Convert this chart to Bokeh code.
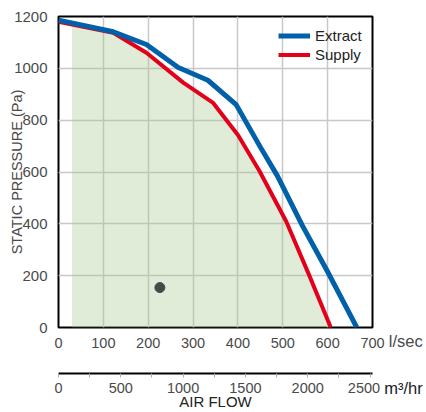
import numpy as np
from bokeh.plotting import figure
from bokeh.models import Range1d, LinearAxis, FixedTicker, Legend, LegendItem
from bokeh.embed import file_html
from bokeh.resources import INLINE

# ---- data ----
extract_flow = [0, 122, 196, 267, 333, 396, 450, 488, 544, 600, 665]
extract_pressure = [1186, 1141, 1092, 1003, 954, 860, 696, 585, 392, 215, 0]
supply_flow = [0, 122, 196, 278, 344, 400, 448, 508, 559, 607]
supply_pressure = [1180, 1137, 1060, 945, 868, 743, 604, 408, 201, 0]
fill_start_flow = 30
point_flow = [226]
point_pressure = [154]

flow_ticks = [0, 100, 200, 300, 400, 500, 600, 700]
pressure_ticks = [0, 200, 400, 600, 800, 1000, 1200]
m3h_ticks = [0, 500, 1000, 1500, 2000, 2500]
m3h_minor_ticks = [250, 750, 1250, 1750, 2250]
LS_TO_M3H = 3.6

FONT = "Liberation Sans"
TICK_COL = "#4a4a4a"
DARK = "#222222"
NB = "\u00a0"

p = figure(width=426, height=412,
           x_range=Range1d(0, 700), y_range=Range1d(0, 1200),
           output_backend="svg", toolbar_location=None,
           min_border_left=58, min_border_right=54, min_border_top=16, min_border_bottom=0)

p.outline_line_color = "black"
p.outline_line_width = 2
p.background_fill_color = "white"
p.border_fill_color = "white"

# grid
p.xgrid.ticker = FixedTicker(ticks=flow_ticks)
p.ygrid.ticker = FixedTicker(ticks=pressure_ticks)
for g in (p.xgrid[0], p.ygrid[0]):
    g.grid_line_color = "#c8c8c8"
    g.grid_line_width = 1.5

# fill under supply curve
sf = np.array(supply_flow, dtype=float)
sp = np.array(supply_pressure, dtype=float)
fx = np.concatenate([[fill_start_flow], sf[sf > fill_start_flow]])
fy = np.interp(fx, sf, sp)
p.varea(x=fx, y1=np.zeros_like(fy), y2=fy, fill_color="#a6c98e", fill_alpha=0.35)

# curves
r_sup = p.line(supply_flow, supply_pressure, line_color="#e2001a", line_width=4, line_join="round")
r_ext = p.line(extract_flow, extract_pressure, line_color="#0060aa", line_width=5, line_join="round")
p.scatter(point_flow, point_pressure, size=10, color="#464a46")

# legend
legend = Legend(items=[LegendItem(label="Extract", renderers=[r_ext]),
                       LegendItem(label="Supply", renderers=[r_sup])],
                location=(220, 263), orientation="vertical",
                glyph_width=32, glyph_height=19, label_height=19, spacing=0, padding=0,
                label_standoff=5, border_line_color=None, background_fill_alpha=0,
                label_text_font=FONT, label_text_font_size="15px", label_text_color=DARK)
p.add_layout(legend, "center")


def style_labels(ax, size="14.5px"):
    ax.major_label_text_font = FONT
    ax.major_label_text_font_size = size
    ax.major_label_text_color = TICK_COL
    ax.axis_label_text_font = FONT
    ax.axis_label_text_font_style = "normal"


# y axis
ya = p.yaxis[0]
ya.ticker = FixedTicker(ticks=pressure_ticks)
ya.axis_line_color = None
ya.major_tick_line_color = None
ya.minor_tick_line_color = None
ya.major_label_standoff = 5
style_labels(ya, "15px")
ya.axis_label = "STATIC PRESSURE (Pa)"
ya.axis_label_text_font_size = "14.5px"
ya.axis_label_text_color = TICK_COL
ya.axis_label_standoff = -14

# x axis l/sec (unit text carried by its axis label, pulled up into the tick row)
xa = p.xaxis[0]
xa.ticker = FixedTicker(ticks=flow_ticks)
xa.axis_line_color = None
xa.major_tick_line_color = None
xa.minor_tick_line_color = None
xa.major_label_standoff = 4
style_labels(xa)
xa.axis_label = NB * 83 + "l/sec"
xa.axis_label_text_font_size = "16.5px"
xa.axis_label_text_color = TICK_COL
xa.axis_label_standoff = -19

# spacer between the two flow scales
spacer = LinearAxis(ticker=FixedTicker(ticks=[]))
spacer.axis_line_color = None
spacer.major_tick_line_color = None
spacer.minor_tick_line_color = None
spacer.major_label_standoff = 0
spacer.major_tick_out = 0
spacer.axis_label = NB
spacer.axis_label_text_font_size = "14px"
spacer.axis_label_standoff = 2
p.add_layout(spacer, "below")

# second axis m3/hr
p.extra_x_ranges = {"m3h": Range1d(0, 700 * LS_TO_M3H)}
ax2 = LinearAxis(x_range_name="m3h",
                 ticker=FixedTicker(ticks=m3h_ticks, minor_ticks=m3h_minor_ticks))
ax2.axis_line_color = "black"
ax2.axis_line_width = 2
ax2.major_tick_line_color = "#b0b0b0"
ax2.major_tick_in = 0
ax2.major_tick_out = 4
ax2.minor_tick_line_color = "#b0b0b0"
ax2.minor_tick_in = 0
ax2.minor_tick_out = 4
ax2.major_label_standoff = 2
style_labels(ax2)
ax2.major_label_overrides = {2500: "2500" + NB * 3}
ax2.axis_label = NB * 82 + "m³/hr"
ax2.axis_label_text_font_size = "16.5px"
ax2.axis_label_text_color = DARK
ax2.axis_label_standoff = -20
p.add_layout(ax2, "below")

# axis title
ax3 = LinearAxis(ticker=FixedTicker(ticks=[]))
ax3.axis_line_color = None
ax3.major_tick_line_color = None
ax3.minor_tick_line_color = None
ax3.major_label_standoff = 0
ax3.major_tick_out = 0
ax3.axis_label = "AIR FLOW"
ax3.axis_label_text_font = FONT
ax3.axis_label_text_font_style = "normal"
ax3.axis_label_text_font_size = "15px"
ax3.axis_label_text_color = DARK
ax3.axis_label_standoff = -7
p.add_layout(ax3, "below")

open("out.html", "w").write(file_html(p, INLINE))
